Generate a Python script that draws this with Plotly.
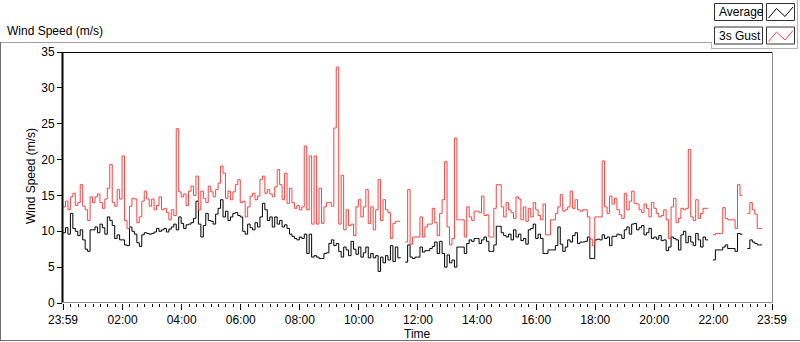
import plotly.graph_objects as go
import pandas as pd

# ---------------- data (5-minute samples starting 23:59) ----------------
start_time = "2024-01-01 23:59"
step_minutes = 5

tick_labels = ["23:59", "02:00", "04:00", "06:00", "08:00", "10:00", "12:00",
               "14:00", "16:00", "18:00", "20:00", "22:00", "23:59"]
tick_minutes = [0, 121, 241, 361, 481, 601, 721, 841, 961, 1081, 1201, 1321, 1440]
y_ticks = [0, 5, 10, 15, 20, 25, 30, 35]

gust = [
    13.4, 14.2, 13.0, 14.8, 15.3, 13.6, 14.0, 16.5, 13.5, 13.0, 11.5, 14.8,
    14.0, 14.8, 15.2, 14.0, 13.2, 14.5, 16.0, 19.3, 14.0, 13.5, 15.8, 14.5,
    20.5, 11.5, 10.4, 13.5, 14.6, 14.5, 11.2, 12.0, 14.2, 15.6, 14.5, 13.5,
    14.5, 13.0, 13.6, 14.8, 13.0, 13.2, 12.6, 11.6, 13.0, 12.2, 24.3, 15.5,
    14.8, 15.2, 13.6, 15.6, 16.3, 15.0, 17.7, 13.0, 15.6, 14.6, 14.0, 16.3,
    15.5, 14.8, 15.8, 16.7, 19.1, 18.1, 14.6, 15.6, 14.4, 15.5, 16.5, 17.2,
    14.0, 14.2, 12.0, 13.4, 14.9, 15.3, 14.4, 14.9, 17.2, 17.7, 15.3, 15.8,
    15.2, 14.8, 16.2, 18.6, 16.5, 14.4, 18.1, 13.9, 16.0, 14.0, 13.2, 13.6,
    13.0, 13.4, 21.9, 13.0, 20.5, 11.0, 20.5, 11.0, 16.0, 11.1, 13.4, 14.0,
    14.0, 13.5, 24.4, 32.9, 11.0, 17.8, 10.2, 13.0, 10.8, 11.0, 9.4, 13.4,
    14.4, 12.0, 13.4, 15.8, 11.1, 13.4, 10.2, 13.0, 17.2, 11.5, 14.4, 13.0,
    12.6, 9.0, 11.1, 11.4, 11.4, 11.4, None, 8.5, 15.8, 8.2, 9.2, 9.2,
    9.2, 12.0, 9.2, 10.6, 11.0, 11.0, 13.2, 11.2, 9.4, 12.5, 14.4, 19.7,
    10.6, 8.1, 9.0, 23.0, 11.6, 11.6, 11.6, 9.2, 13.4, 12.0, 11.5, 12.8,
    12.8, 12.6, 14.9, 12.2, 12.3, 9.2, 9.2, 13.2, 16.5, 16.5, 13.4, 12.0,
    14.0, 13.0, 12.6, 11.8, 14.8, 14.5, 11.6, 13.4, 11.4, 13.2, 12.0, 14.0,
    13.0, 12.2, 11.6, 13.8, 9.5, 9.5, 11.6, 11.6, 12.5, 13.4, 15.1, 12.8,
    13.0, 13.4, 15.6, 13.2, 14.4, 13.0, 12.8, 13.0, 13.0, 12.0, 8.9, 8.0,
    12.0, 12.0, 12.0, 19.8, 13.4, 12.5, 14.9, 13.8, 14.6, 13.0, 12.3, 11.8,
    15.3, 13.0, 14.2, 15.6, 13.9, 13.8, 13.0, 12.6, 13.8, 13.2, 12.0, 14.0,
    13.2, 12.5, 12.0, 12.2, 13.0, 11.6, 9.0, 13.4, 14.6, 11.2, 11.8, 13.2,
    13.0, 13.2, 21.4, 12.0, 11.5, 14.4, 11.8, 12.5, 13.2, 13.2, 13.2, None,
    9.5, 9.7, 9.7, 9.7, 13.3, 11.8, 11.6, 11.6, 11.6, 10.4, 16.5, 15.0,
    15.0, None, 12.5, 14.0, 13.0, 12.4, 10.4, 10.4, 10.4,
]

average = [
    9.8, 10.5, 9.6, 12.5, 10.4, 10.0, 9.4, 10.2, 8.8, 7.5, 7.2, 10.2,
    10.2, 10.6, 9.8, 11.0, 10.5, 9.6, 12.0, 11.5, 10.8, 9.0, 9.5, 8.8,
    8.8, 8.1, 8.0, 10.6, 10.0, 9.6, 8.4, 7.9, 9.5, 9.8, 9.7, 9.6,
    9.7, 9.9, 10.4, 10.0, 10.2, 10.4, 9.9, 10.3, 10.6, 11.0, 10.2, 12.0,
    11.1, 10.4, 10.9, 11.0, 11.2, 11.8, 14.2, 11.0, 9.2, 10.8, 12.5, 11.5,
    11.4, 11.0, 12.4, 13.2, 14.4, 12.0, 12.8, 11.5, 12.0, 12.5, 12.6, 12.2,
    12.0, 10.0, 9.6, 11.0, 10.5, 10.2, 11.2, 10.6, 12.0, 13.9, 13.0, 11.5,
    12.0, 10.6, 12.0, 11.0, 11.5, 10.6, 10.9, 10.4, 9.6, 9.3, 9.0, 8.8,
    9.2, 9.0, 9.6, 6.9, 9.6, 6.4, 6.6, 6.4, 6.2, 6.2, 6.9, 7.0,
    8.3, 8.8, 8.0, 8.3, 7.2, 6.4, 7.8, 7.4, 6.6, 8.6, 7.5, 6.8,
    7.8, 6.4, 7.0, 7.8, 6.3, 6.9, 6.3, 6.6, 4.4, 6.4, 5.6, 6.6,
    6.0, 8.0, 5.8, 7.8, 6.3, 6.4, None, 5.7, 8.1, 6.4, 6.2, 6.4,
    6.4, 7.8, 7.1, 7.3, 7.3, 7.6, 7.9, 8.5, 6.9, 8.6, 6.9, 5.0,
    6.7, 5.6, 6.0, 5.0, 7.8, 7.8, 7.8, 6.9, 8.3, 8.8, 8.6, 9.0,
    9.0, 8.3, 8.8, 9.2, 8.6, 7.2, 7.2, 8.1, 10.7, 10.7, 9.8, 9.4,
    9.2, 9.6, 8.8, 10.2, 9.2, 9.6, 8.7, 9.0, 8.2, 10.2, 10.4, 11.0,
    9.0, 9.6, 9.0, 6.9, 6.9, 7.4, 7.4, 7.4, 8.0, 10.6, 8.2, 7.2,
    7.8, 8.8, 8.5, 9.4, 9.8, 8.3, 8.5, 8.5, 8.6, 9.2, 6.2, 6.2,
    8.8, 8.9, 8.8, 9.5, 9.0, 9.2, 8.0, 9.3, 9.3, 9.6, 9.5, 9.0,
    10.2, 10.6, 9.6, 11.0, 11.1, 10.2, 10.5, 10.8, 9.5, 9.8, 10.4, 9.0,
    9.2, 8.9, 9.4, 8.7, 8.8, 7.3, 7.8, 9.2, 9.0, 8.8, 7.4, 9.5,
    10.0, 8.4, 9.3, 8.5, 8.0, 9.7, 8.8, 7.8, 9.2, 8.8, 8.8, None,
    6.0, 7.4, 7.4, 7.4, 7.8, 8.1, 7.6, 7.6, 7.6, 7.2, 9.7, 9.6,
    9.6, None, 7.6, 8.8, 8.5, 8.3, 8.1, 8.1, 8.1,
]

# ---------------- geometry helpers ----------------
W, H = 800, 342
L, R, T, B = 63, 28, 52, 39
PW, PH = W - L - R, H - T - B


def px(x):
    return (x - L) / PW


def py(y):
    return (H - B - y) / PH


base = pd.Timestamp(start_time)
times = [base + pd.Timedelta(minutes=step_minutes * i) for i in range(len(gust))]
tick_vals = [base + pd.Timedelta(minutes=m) for m in tick_minutes]

FONT = "Liberation Sans, Arial, sans-serif"

fig = go.Figure()
fig.add_trace(go.Scatter(x=times, y=average, name="Average", mode="lines",
                         line=dict(color="#000000", width=1, shape="hv"),
                         connectgaps=False))
fig.add_trace(go.Scatter(x=times, y=gust, name="3s Gust", mode="lines",
                         line=dict(color="#ff4040", width=1, shape="hv"),
                         connectgaps=False))

shapes = []
# plot frame: black left/top, grey right/bottom
shapes.append(dict(type="line", xref="paper", yref="paper", x0=px(62.5), x1=px(62.5),
                   y0=0, y1=1, line=dict(color="black", width=2)))
shapes.append(dict(type="line", xref="paper", yref="paper", x0=px(62), x1=1,
                   y0=py(52.5), y1=py(52.5), line=dict(color="black", width=1)))
shapes.append(dict(type="line", xref="paper", yref="paper", x0=px(772.5), x1=px(772.5),
                   y0=0, y1=py(52), line=dict(color="#8c8c8c", width=1)))
shapes.append(dict(type="line", xref="paper", yref="paper", x0=px(62), x1=px(773),
                   y0=py(302.5), y1=py(302.5), line=dict(color="#8c8c8c", width=1)))
# outer frame
shapes.append(dict(type="line", xref="paper", yref="paper", x0=px(0), x1=px(711),
                   y0=py(42.5), y1=py(42.5), line=dict(color="#a0a0a0", width=1)))
shapes.append(dict(type="line", xref="paper", yref="paper", x0=px(0.5), x1=px(0.5),
                   y0=py(42), y1=py(341), line=dict(color="#6e6e6e", width=1)))
shapes.append(dict(type="line", xref="paper", yref="paper", x0=px(0), x1=px(800),
                   y0=py(340.5), y1=py(340.5), line=dict(color="#6e6e6e", width=1)))
# legend frame
shapes.append(dict(type="line", xref="paper", yref="paper", x0=px(711.5), x1=px(711.5),
                   y0=py(42), y1=py(49), line=dict(color="#b4b4b4", width=1)))
shapes.append(dict(type="line", xref="paper", yref="paper", x0=px(711), x1=px(797.5),
                   y0=py(48.5), y1=py(48.5), line=dict(color="#b4b4b4", width=1)))
shapes.append(dict(type="line", xref="paper", yref="paper", x0=px(797.5), x1=px(797.5),
                   y0=py(0), y1=py(49), line=dict(color="#b4b4b4", width=1)))

annotations = []
legend_rows = [("Average", "#000000", 3.5), ("3s Gust", "#ff4040", 27)]
for label, color, top in legend_rows:
    bot = top + 17
    shapes.append(dict(type="rect", xref="paper", yref="paper",
                       x0=px(714.5), x1=px(762.5), y0=py(bot), y1=py(top),
                       line=dict(color="#333333", width=1), fillcolor="white"))
    shapes.append(dict(type="rect", xref="paper", yref="paper",
                       x0=px(766.5), x1=px(794.5), y0=py(bot), y1=py(top),
                       line=dict(color="#333333", width=1), fillcolor="white"))
    zx = [768.5, 776.5, 785, 793]
    zy = [top + 14.5, top + 5, top + 13, top + 3.5]
    path = "M " + " L ".join(f"{px(a)},{py(b)}" for a, b in zip(zx, zy))
    shapes.append(dict(type="path", xref="paper", yref="paper", path=path,
                       line=dict(color=color, width=1)))
    annotations.append(dict(x=px(716.5), y=py(top + 8.5), xref="paper", yref="paper",
                            text=label, showarrow=False, xanchor="left", yanchor="middle",
                            font=dict(family=FONT, size=12, color="black")))

annotations.append(dict(x=px(5), y=py(31), xref="paper", yref="paper",
                        text="Wind Speed (m/s)", showarrow=False, xanchor="left",
                        yanchor="middle", font=dict(family=FONT, size=12, color="black")))
annotations.append(dict(x=px(31), y=py(176), xref="paper", yref="paper",
                        text="Wind Speed (m/s)", showarrow=False, textangle=-90,
                        xanchor="center", yanchor="middle",
                        font=dict(family=FONT, size=12, color="black")))
annotations.append(dict(x=px(417), y=py(334), xref="paper", yref="paper",
                        text="Time", showarrow=False, xanchor="center", yanchor="middle",
                        font=dict(family=FONT, size=12, color="black")))

fig.update_layout(
    width=W, height=H,
    margin=dict(l=L, r=R, t=T, b=B, pad=0),
    paper_bgcolor="white", plot_bgcolor="white",
    showlegend=False,
    shapes=shapes, annotations=annotations,
    font=dict(family=FONT, size=12, color="black"),
    xaxis=dict(
        type="date",
        range=[base, base + pd.Timedelta(minutes=1440)],
        tickmode="array", tickvals=tick_vals, ticktext=tick_labels,
        ticks="outside", ticklen=6, tickwidth=1, tickcolor="black",
        showgrid=False, zeroline=False, showline=False,
        tickfont=dict(family=FONT, size=12, color="black"),
        minor=dict(tickmode="linear", tick0=base + pd.Timedelta(minutes=1),
                   dtick=15 * 60 * 1000, ticks="outside", ticklen=3,
                   tickcolor="black", showgrid=False),
        fixedrange=True,
    ),
    yaxis=dict(
        range=[0, 35], tickmode="array", tickvals=y_ticks,
        ticks="outside", ticklen=5, tickwidth=1, tickcolor="black",
        showgrid=False, zeroline=False, showline=False,
        tickfont=dict(family=FONT, size=12, color="black"),
        fixedrange=True,
    ),
)

fig.write_html(
    "out.html",
    config={"displayModeBar": False, "staticPlot": True},
    post_script="document.body.style.margin='0';document.body.style.padding='0';",
)
